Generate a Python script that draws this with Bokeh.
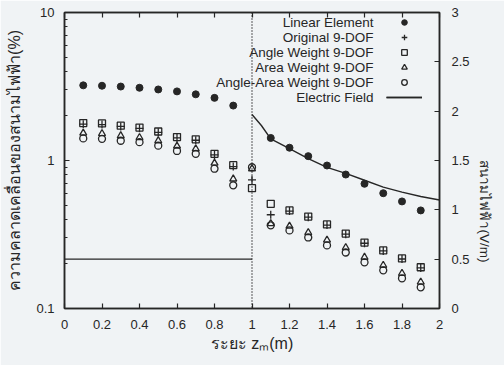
from math import pi
from bokeh.plotting import figure
from bokeh.models import (Range1d, LinearAxis, LinearScale, Span, Legend,
                          LegendItem, FixedTicker, Label)
from bokeh.embed import file_html
from bokeh.resources import INLINE

# ---------------- data ----------------
x_all = [0.1, 0.2, 0.3, 0.4, 0.5, 0.6, 0.7, 0.8, 0.9, 1.0,
         1.1, 1.2, 1.3, 1.4, 1.5, 1.6, 1.7, 1.8, 1.9]
linear_x = [0.1, 0.2, 0.3, 0.4, 0.5, 0.6, 0.7, 0.8, 0.9,
            1.1, 1.2, 1.3, 1.4, 1.5, 1.6, 1.7, 1.8, 1.9]
linear_element = [3.22, 3.2, 3.16, 3.1, 3.02, 2.93, 2.8, 2.65, 2.35,
                  1.42, 1.22, 1.07, 0.925, 0.804, 0.696, 0.601, 0.529, 0.46]
original_9dof = [1.76, 1.75, 1.70, 1.65, 1.55, 1.42, 1.37, 1.09, 0.91, 0.74,
                 0.43, 0.455, 0.414, 0.366, 0.318, 0.276, 0.245, 0.216, 0.188]
angle_weight = [1.79, 1.78, 1.72, 1.67, 1.57, 1.44, 1.39, 1.11, 0.93, 0.65,
                0.51, 0.46, 0.418, 0.37, 0.321, 0.279, 0.247, 0.218, 0.19]
area_weight = [1.53, 1.52, 1.47, 1.43, 1.36, 1.25, 1.20, 0.96, 0.75, 0.88,
               0.375, 0.36, 0.326, 0.29, 0.258, 0.222, 0.196, 0.173, 0.151]
angle_area_weight = [1.41, 1.40, 1.36, 1.33, 1.26, 1.16, 1.11, 0.88, 0.68, 0.90,
                     0.365, 0.337, 0.302, 0.267, 0.239, 0.205, 0.181, 0.16, 0.139]

field_x1 = [0.0, 1.0]
field_v1 = [0.5, 0.5]
field_x2 = [1.0, 1.05, 1.1, 1.2, 1.3, 1.4, 1.5, 1.6, 1.7, 1.8, 1.9, 2.0]
field_v2 = [1.966, 1.855, 1.72, 1.62, 1.52, 1.43, 1.37, 1.30, 1.23, 1.18, 1.135, 1.10]

boundary_x = 1.0

x_ticks = [0, 0.2, 0.4, 0.6, 0.8, 1, 1.2, 1.4, 1.6, 1.8, 2]
x_tick_labels = ["0", "0.2", "0.4", "0.6", "0.8", "1", "1.2", "1.4", "1.6", "1.8", "2"]
y_ticks = [0.1, 1, 10]
y_tick_labels = ["0.1", "1", "10"]
y_minor_ticks = [m * d for d in (0.1, 1) for m in range(2, 10)]
y2_ticks = [0, 0.5, 1, 1.5, 2, 2.5, 3]
y2_tick_labels = ["0", "0.5", "1", "1.5", "2", "2.5", "3"]

legend_labels = ["Linear Element", "Original 9-DOF", "Angle Weight 9-DOF",
                 "Area Weight 9-DOF", "Angle-Area Weight 9-DOF", "Electric Field"]

x_label = "ระยะ zₘ(m)"
y_label = "ความคลาดเคลื่อนของสนามไฟฟ้า(%)"
y2_label = "สนามไฟฟ้า(V/m)"

# ---------------- style ----------------
INK = "#262626"
BG = "#f0f3f5"
FONT = "Liberation Sans"

p = figure(width=504, height=365, output_backend="svg", toolbar_location=None,
           x_range=Range1d(0, 2), y_range=Range1d(0.1, 10), y_axis_type="log",
           min_border_left=64, min_border_right=65, min_border_top=12,
           min_border_bottom=57)
p.background_fill_color = BG
p.border_fill_color = BG
p.outline_line_color = INK
p.outline_line_width = 1.5
p.xgrid.visible = False
p.ygrid.visible = False
p.extra_y_ranges = {"ef": Range1d(0, 3)}
p.extra_y_scales = {"ef": LinearScale()}


def style_axis(ax):
    ax.axis_line_color = INK
    ax.axis_line_width = 1.5
    ax.major_tick_line_color = INK
    ax.major_tick_line_width = 1.2
    ax.major_tick_in = 5
    ax.major_tick_out = 0
    ax.minor_tick_line_color = INK
    ax.minor_tick_in = 0
    ax.minor_tick_out = 0
    ax.major_label_text_font = FONT
    ax.major_label_text_font_size = "13px"
    ax.major_label_text_color = INK
    ax.axis_label_text_font = FONT
    ax.axis_label_text_font_size = "16px"
    ax.axis_label_text_font_style = "normal"
    ax.axis_label_text_color = INK


# bottom axis
xa = p.xaxis[0]
style_axis(xa)
xa.ticker = FixedTicker(ticks=x_ticks)
xa.major_label_overrides = dict(zip(x_ticks, x_tick_labels))
xa.major_label_standoff = 11
xa.axis_label = x_label
xa.axis_label_standoff = 3

# left axis (log)
ya = p.yaxis[0]
style_axis(ya)
ya.ticker = FixedTicker(ticks=y_ticks, minor_ticks=y_minor_ticks)
ya.minor_tick_in = 3
ya.major_label_overrides = dict(zip(y_ticks, y_tick_labels))
ya.major_label_standoff = 10
ya.axis_label = y_label
ya.axis_label_standoff = 10

# top axis (ticks only)
top = LinearAxis(ticker=FixedTicker(ticks=x_ticks))
style_axis(top)
top.major_label_overrides = {t: "" for t in x_ticks}
top.major_label_standoff = 0
p.add_layout(top, "above")

# right axis
ra = LinearAxis(y_range_name="ef", ticker=FixedTicker(ticks=y2_ticks))
style_axis(ra)
ra.major_label_overrides = dict(zip(y2_ticks, y2_tick_labels))
ra.major_label_standoff = 12
ra.axis_label = y2_label
ra.axis_label_orientation = -pi / 2
ra.axis_label_text_align = "right"
ra.axis_label_text_font_size = "13.5px"
ra.axis_label_standoff = 12
p.add_layout(ra, "right")

# boundary
p.add_layout(Span(location=boundary_x, dimension="height", line_color=INK,
                  line_width=1.5, line_dash="1 2"))

# ---------------- marks ----------------
ms = 7
r_lin = p.scatter(linear_x, linear_element, marker="circle", size=ms,
                  fill_color=INK, line_color=INK)
r_orig = p.scatter(x_all, original_9dof, marker="cross", size=ms + 1,
                   line_color=INK, line_width=1.3)
r_ang = p.scatter(x_all, angle_weight, marker="square", size=ms,
                  fill_color=None, line_color=INK, line_width=1.3)
r_area = p.scatter(x_all, area_weight, marker="triangle", size=ms,
                   fill_color=None, line_color=INK, line_width=1.3)
r_aa = p.scatter(x_all, angle_area_weight, marker="circle", size=ms,
                 fill_color=None, line_color=INK, line_width=1.3)
r_f1 = p.line(field_x1, field_v1, y_range_name="ef", line_color=INK, line_width=1.4)
r_f2 = p.line(field_x2, field_v2, y_range_name="ef", line_color=INK, line_width=1.4)

# legend: glyphs via Legend, texts right-aligned to their left
renderers = [[r_lin], [r_orig], [r_ang], [r_area], [r_aa], [r_f1, r_f2]]
legend = Legend(items=[LegendItem(label=" ", renderers=r) for r in renderers],
                location=(322, 204), padding=0, spacing=1,
                glyph_width=36, glyph_height=14, label_height=14,
                label_width=1, label_standoff=0,
                label_text_font=FONT, label_text_font_size="12px",
                background_fill_alpha=0, border_line_color=None, margin=0)
p.add_layout(legend, "center")

row0_y, row_step, text_right_x = 286, 15, 309
for i, lab in enumerate(legend_labels):
    p.add_layout(Label(x=text_right_x, y=row0_y - i * row_step,
                       x_units="screen", y_units="screen", text=lab,
                       text_align="right", text_baseline="middle",
                       text_font=FONT, text_font_size="13.5px", text_color=INK))

open("out.html", "w").write(file_html(p, INLINE))
